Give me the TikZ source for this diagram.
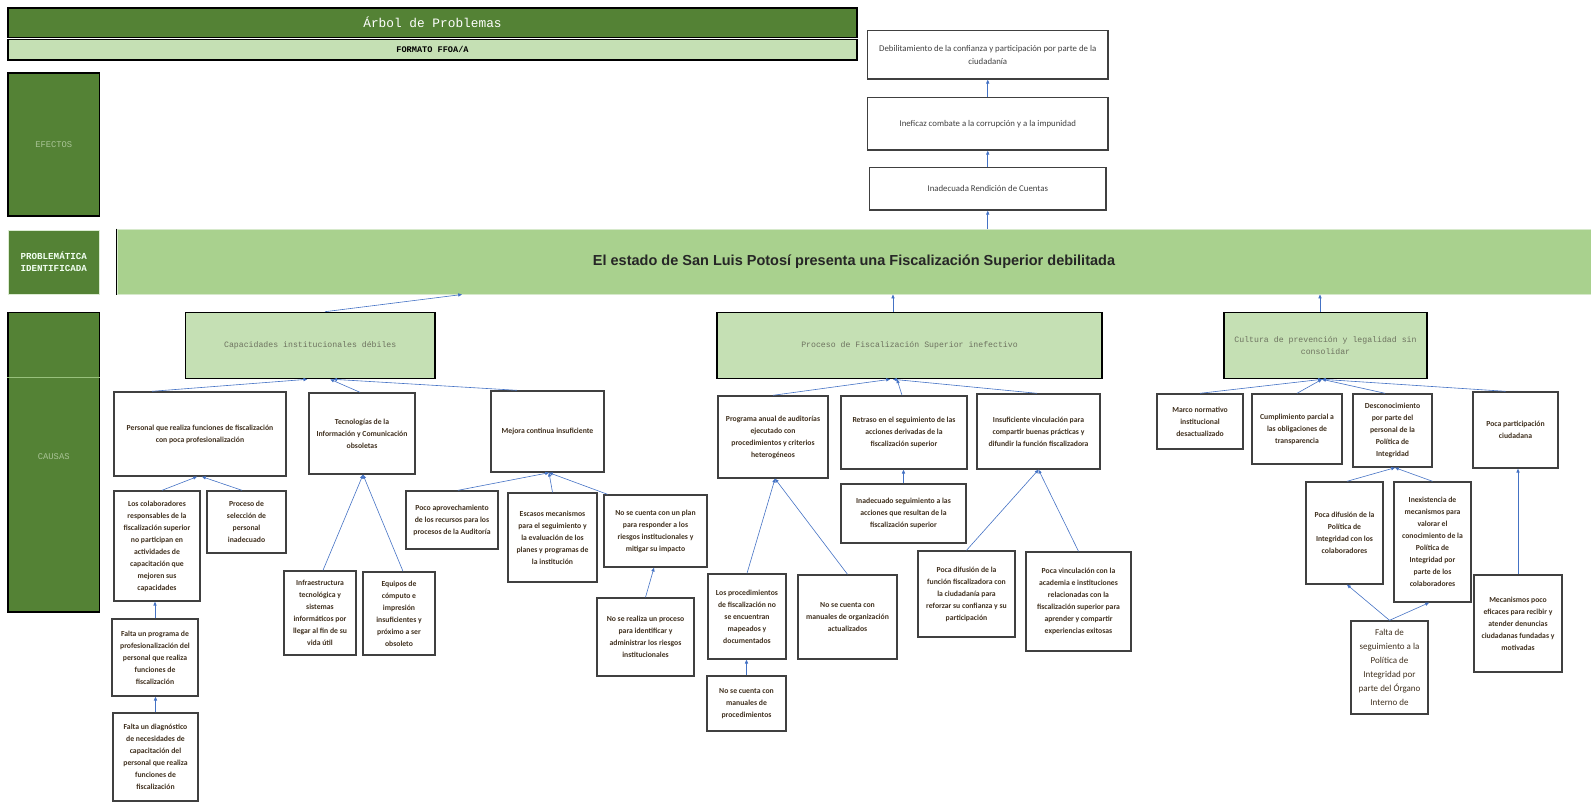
\documentclass[tikz,border=0pt]{standalone}
\usepackage{fontspec}
\setmainfont{Carlito}
\newfontfamily\monof{Liberation Mono}
\newfontfamily\arialf{Liberation Sans}
\usetikzlibrary{arrows.meta}
\definecolor{dkgreen}{HTML}{548235}
\definecolor{ltgreen}{HTML}{C5E0B4}
\definecolor{midgreen}{HTML}{A9D18E}
\definecolor{arrowblue}{HTML}{4472C4}
\definecolor{txt}{HTML}{40301E}
\definecolor{boxline}{HTML}{404040}
\definecolor{gtext}{HTML}{6E7360}
\definecolor{labtext}{HTML}{A9C496}
\newcommand\mybox[7][]{%
  \pgfmathsetmacro\bw{#5-#3}\pgfmathsetmacro\bh{#6-#4}%
  \pgfmathsetmacro\bcx{(#3+#5)/2}\pgfmathsetmacro\bcy{(#4+#6)/2}%
  \node[wbox,minimum width=\bw pt,minimum height=\bh pt,#1] (#2) at (\bcx,\bcy) {#7};}
\begin{document}
\begin{tikzpicture}[x=1pt,y=-1pt,
  wbox/.style={draw=boxline,line width=1.4pt,fill=white,align=center,inner sep=1pt,
    font=\fontsize{7.7}{12}\selectfont\bfseries,text=txt},
  effbox/.style={font=\fontsize{8.8}{13}\selectfont,text=black!75},
  gbox/.style={draw=black,line width=1.6pt,fill=ltgreen,align=center,inner sep=1pt,
    font=\monof\fontsize{8.2}{12}\selectfont,text=gtext},
  lab/.style={fill=dkgreen,align=center,inner sep=0pt,minimum width=91.5pt,
    font=\monof\fontsize{8.8}{12}\selectfont,text=labtext},
  conn/.style={draw=arrowblue,line width=0.6pt,-{Triangle[length=3.8pt,width=3.2pt]}}
]
\useasboundingbox (0,0) rectangle (1591,804);

% header
\node[draw=black,line width=1.5pt,fill=dkgreen,minimum width=849pt,minimum height=29.5pt,
  text=white,font=\monof\fontsize{12.8}{14}\selectfont] (title) at (432.5,22.75) {Árbol de Problemas};
\node[draw=black,line width=1.5pt,fill=ltgreen,minimum width=849pt,minimum height=20.5pt,
  text=black,font=\monof\bfseries\fontsize{8.6}{10}\selectfont] (formato) at (432.5,49.75) {FORMATO FFOA/A};

% left labels
\node[lab,draw=black,line width=1.5pt,minimum height=143pt] (efectos) at (53.75,144.5) {EFECTOS};
\node[lab,draw=ltgreen!60,line width=0.8pt,minimum height=64pt,text=green!5!white,
  font=\monof\bfseries\fontsize{9.2}{12}\selectfont] (problab) at (53.75,262) {PROBLEMÁTICA\\IDENTIFICADA};
\node[lab,draw=black,line width=1.5pt,minimum height=299.5pt,text depth=12pt] (causas) at (53.75,462.25) {CAUSAS};
\draw[draw=midgreen!80!dkgreen,line width=0.6pt] (causas.west |- 0,377) -- (causas.east |- 0,377);

% main problem bar
\node[fill=midgreen,draw=ltgreen!70!white,line width=1pt,minimum width=1474pt,minimum height=65pt,
  font=\arialf\bfseries\fontsize{14.5}{16}\selectfont,text=black!85] (main) at (854,261.5)
  {El estado de San Luis Potosí presenta una Fiscalización Superior debilitada};
\draw[black,line width=1.2pt] (main.north west) -- (main.south west);

% effects
\mybox[effbox]{debil}{867.5}{30.5}{1108}{79}{Debilitamiento de la confianza y participación por parte de la\\ ciudadanía}
\mybox[effbox]{inef}{867.5}{97.5}{1108}{150}{Ineficaz combate a la corrupción y a la impunidad}
\mybox[effbox]{inad}{869.5}{167.5}{1106}{210}{Inadecuada Rendición de Cuentas}

% level 1 causes
\node[gbox,minimum width=249.5pt,minimum height=66pt] (cap) at (310.25,345.5) {Capacidades institucionales débiles};
\node[gbox,minimum width=385pt,minimum height=66pt] (proc) at (909.5,345.5) {Proceso de Fiscalización Superior inefectivo};
\node[gbox,minimum width=203pt,minimum height=66pt] (cult) at (1325.5,345.5) {Cultura de prevención y legalidad sin\\ consolidar};

% under capacidades
\mybox{pers}{114}{392}{286}{476}{Personal que realiza funciones de fiscalización\\ con poca profesionalización}
\mybox{tec}{309}{393}{415}{474}{Tecnologías de la\\ Información y Comunicación\\ obsoletas}
\mybox{mej}{491}{391}{604}{472}{Mejora continua insuficiente}
\mybox{colab}{114}{491}{200}{601}{Los colaboradores\\ responsables de la\\ fiscalización superior\\ no participan en\\ actividades de\\ capacitación que\\ mejoren sus\\ capacidades}
\mybox{psel}{207}{491}{286}{553}{Proceso de\\ selección de\\ personal\\ inadecuado}
\mybox{prog}{112}{619}{198}{696}{Falta un programa de\\ profesionalización del\\ personal que realiza\\ funciones de\\ fiscalización}
\mybox{diag}{113}{713}{198}{801}{Falta un diagnóstico\\ de necesidades de\\ capacitación del\\ personal que realiza\\ funciones de\\ fiscalización}
\mybox{infra}{284}{571}{356}{655}{Infraestructura\\ tecnológica y\\ sistemas\\ informáticos por\\ llegar al fin de su\\ vida útil}
\mybox{equip}{363}{572}{435}{655}{Equipos de\\ cómputo e\\ impresión\\ insuficientes y\\ próximo a ser\\ obsoleto}
\mybox{poco}{406}{491}{498}{549}{Poco aprovechamiento\\ de los recursos para los\\ procesos de la Auditoría}
\mybox{esc}{508}{493}{597}{582}{Escasos mecanismos\\ para el seguimiento y\\ la evaluación de los\\ planes y programas de\\ la institución}
\mybox{plan}{604}{495}{707}{567}{No se cuenta con un plan\\ para responder a los\\ riesgos institucionales y\\ mitigar su impacto}
\mybox{realiza}{597}{598}{694}{676}{No se realiza un proceso\\ para identificar y\\ administrar los riesgos\\ institucionales}

% under proceso
\mybox{panual}{718}{396}{828}{478}{Programa anual de auditorías\\ ejecutado con\\ procedimientos y criterios\\ heterogéneos}
\mybox{retraso}{841}{396}{967}{469}{Retraso en el seguimiento de las\\ acciones derivadas de la\\ fiscalización superior}
\mybox{insuf}{977}{394}{1100}{469}{Insuficiente vinculación para\\ compartir buenas prácticas y\\ difundir la función fiscalizadora}
\mybox{iseg}{841}{484}{966}{543}{Inadecuado seguimiento a las\\ acciones que resultan de la\\ fiscalización superior}
\mybox{lproc}{708}{574}{786}{659}{Los procedimientos\\ de fiscalización no\\ se encuentran\\ mapeados y\\ documentados}
\mybox{morg}{798}{575}{897}{659}{No se cuenta con\\ manuales de organización\\ actualizados}
\mybox{mproc}{707}{676}{786}{731}{No se cuenta con\\ manuales de\\ procedimientos}
\mybox{pdif}{918}{551}{1015}{637}{Poca difusión de la\\ función fiscalizadora con\\ la ciudadanía para\\ reforzar su confianza y su\\ participación}
\mybox{pvin}{1026}{552}{1131}{651}{Poca vinculación con la\\ academia e instituciones\\ relacionadas con la\\ fiscalización superior para\\ aprender y compartir\\ experiencias exitosas}

% under cultura
\mybox{marco}{1157}{394}{1243}{449}{Marco normativo\\ institucional\\ desactualizado}
\mybox{cump}{1252}{394}{1342}{464}{Cumplimiento parcial a\\ las obligaciones de\\ transparencia}
\mybox{desc}{1353}{394}{1432}{467}{Desconocimiento\\ por parte del\\ personal de la\\ Política de\\ Integridad}
\mybox{ppart}{1473}{392}{1558}{468}{Poca participación\\ ciudadana}
\mybox{pdpol}{1306}{482}{1383}{584}{Poca difusión de la\\ Política de\\ Integridad con los\\ colaboradores}
\mybox{inex}{1394}{482}{1471}{602}{Inexistencia de\\ mecanismos para\\ valorar el\\ conocimiento de la\\ Política de\\ Integridad por\\ parte de los\\ colaboradores}
\mybox[font=\fontsize{9}{14}\selectfont]{falta}{1351}{621}{1428}{714}{Falta de\\ seguimiento a la\\ Política de\\ Integridad por\\ parte del Órgano\\ Interno de}
\mybox{mecan}{1474}{575}{1562}{672}{Mecanismos poco\\ eficaces para recibir y\\ atender denuncias\\ ciudadanas fundadas y\\ motivadas}

% connectors: effects
\draw[conn] (inad.south |- main.north) -- (inad.south);
\draw[conn] (inad.north) -- (inef.south);
\draw[conn] (inef.north) -- (debil.south);
% level 1 to main
\draw[conn] ([xshift=14.75pt]cap.north) -- ([xshift=-392pt]main.south);
\draw[conn] ([xshift=-16.5pt]proc.north) -- ([xshift=-16.5pt]proc.north |- main.south);
\draw[conn] ([xshift=-5.5pt]cult.north) -- ([xshift=-5.5pt]cult.north |- main.south);
% capacidades
\draw[conn] ([xshift=-48pt]pers.north) -- ([xshift=-3pt]cap.south);
\draw[conn] ([xshift=-2pt]tec.north) -- ([xshift=20pt]cap.south);
\draw[conn] ([xshift=-30.5pt]mej.north) -- ([xshift=23pt]cap.south);
\draw[conn] ([xshift=5pt]colab.north) -- ([xshift=-3pt]pers.south);
\draw[conn] ([xshift=-4.5pt]psel.north) -- ([xshift=2pt]pers.south);
\draw[conn] (prog.north) -- (prog.north |- colab.south);
\draw[conn] (diag.north) -- (diag.north |- prog.south);
\draw[conn] ([xshift=3pt]infra.north) -- ([xshift=1pt]tec.south);
\draw[conn] ([xshift=4pt]equip.north) -- ([xshift=1pt]tec.south);
\draw[conn] ([xshift=6pt]poco.north) -- ([xshift=1.5pt]mej.south);
\draw[conn] (esc.north) -- ([xshift=1.5pt]mej.south);
\draw[conn] ([xshift=-48pt]plan.north) -- ([xshift=1.5pt]mej.south);
\draw[conn] (realiza.north) -- ([xshift=-1.5pt]plan.south);
% proceso
\draw[conn] (panual.north) -- ([xshift=-19.5pt]proc.south);
\draw[conn] ([xshift=-2pt]retraso.north) -- ([xshift=-12.5pt]proc.south);
\draw[conn] ([xshift=-1.5pt]insuf.north) -- ([xshift=-16.5pt]proc.south);
\draw[conn] (lproc.north) -- ([xshift=2pt]panual.south);
\draw[conn] (morg.north) -- ([xshift=2pt]panual.south);
\draw[conn] (mproc.north) -- (mproc.north |- lproc.south);
\draw[conn] (iseg.north) -- (iseg.north |- retraso.south);
\draw[conn] (pdif.north) -- (insuf.south);
\draw[conn] (pvin.north) -- (insuf.south);
% cultura
\draw[conn] (marco.north) -- ([xshift=-3.5pt]cult.south);
\draw[conn] (cump.north) -- ([xshift=-3.5pt]cult.south);
\draw[conn] ([xshift=-7.5pt]desc.north) -- ([xshift=-3.5pt]cult.south);
\draw[conn] ([xshift=-10pt]ppart.north) -- ([xshift=-3.5pt]cult.south);
\draw[conn] ([xshift=2.5pt]pdpol.north) -- ([xshift=2.5pt]desc.south);
\draw[conn] (inex.north) -- ([xshift=2.5pt]desc.south);
\draw[conn] (falta.north) -- ([xshift=2.5pt]pdpol.south);
\draw[conn] (falta.north) -- ([xshift=-3.5pt]inex.south);
\draw[conn] (mecan.north) -- (mecan.north |- ppart.south);
\end{tikzpicture}
\end{document}
